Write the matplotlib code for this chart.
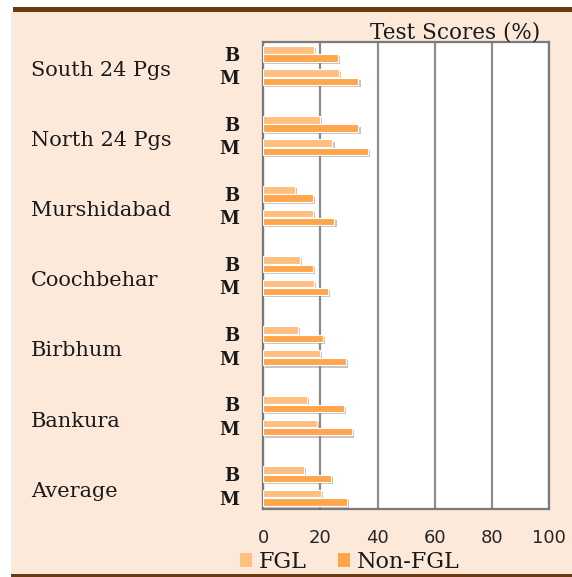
import matplotlib
matplotlib.use('Agg')
import matplotlib.pyplot as plt
import matplotlib.patheffects as pe
from matplotlib.patches import Rectangle, Patch
from matplotlib.transforms import blended_transform_factory
import numpy as np

# data (test scores, %)
districts = ['South 24 Pgs', 'North 24 Pgs', 'Murshidabad', 'Coochbehar',
             'Birbhum', 'Bankura', 'Average']
subgroups = ['B', 'M']
fgl_B = [17.8, 19.9, 11.2, 12.8, 12.0, 15.3, 14.1]
fgl_M = [26.4, 24.2, 17.5, 17.6, 19.8, 18.8, 20.1]
nonfgl_B = [26.1, 33.3, 17.4, 17.4, 21.0, 28.2, 23.7]
nonfgl_M = [33.3, 36.6, 24.9, 22.6, 29.0, 31.0, 29.4]
xticks = [0, 20, 40, 60, 80, 100]
series_names = ['FGL', 'Non-FGL']

c_fgl = '#FFBF80'
c_nfgl = '#FFA64D'
peach = '#FDE9D9'
brown = '#6B3A0E'
serif = 'DejaVu Serif'

W, H = 572, 577
fig = plt.figure(figsize=(W/100, H/100), dpi=100)
fig.patch.set_facecolor('white')

# peach panel and brown rules
fig.add_artist(Rectangle((11/W, 3/H), 1-11/W, 1-15/H, transform=fig.transFigure,
                         facecolor=peach, edgecolor='none', zorder=-10))
fig.add_artist(Rectangle((12.7/W, 1-12.3/H), 1, 5.6/H, transform=fig.transFigure,
                         facecolor=brown, edgecolor='none', zorder=-9))
fig.add_artist(Rectangle((11/W, 0), 1, 3/H, transform=fig.transFigure,
                         facecolor=brown, edgecolor='none', zorder=-9))

ax = fig.add_axes([263.3/W, 1-509.3/H, (549-263.3)/W, (509.3-42.3)/H])
ax.set_facecolor('white')

# three slots per district: B, M, blank (last blank dropped)
pos_B = np.arange(len(districts))*3
pos_M = pos_B + 1
off = 0.178
h = 0.32
shadow = [pe.SimplePatchShadow(offset=(1.5, -1.5), shadow_rgbFace='#808080', alpha=0.45), pe.Normal()]

for pos, f, n in [(pos_B, fgl_B, nonfgl_B), (pos_M, fgl_M, nonfgl_M)]:
	b1 = ax.barh(pos-off, f, height=h, color=c_fgl, edgecolor='white', linewidth=0.8, zorder=3)
	b2 = ax.barh(pos+off, n, height=h, color=c_nfgl, edgecolor='white', linewidth=0.8, zorder=3)
	for r in list(b1)+list(b2):
		r.set_path_effects(shadow)

ax.set_xlim(0, 100)
ax.set_ylim(pos_M[-1]+0.5, -0.5)
ax.set_xticks(xticks)
ax.set_xticklabels([str(x) for x in xticks], fontsize=13, family='DejaVu Sans', color='#262626')
ax.tick_params(axis='x', length=0, pad=14)
ax.xaxis.grid(True, color='#8C8C8C', linewidth=1.6, zorder=1)
ax.set_axisbelow(True)
for s in ax.spines.values():
	s.set_color('#7A7A7A')
	s.set_linewidth(1.6)

yt = np.sort(np.concatenate([pos_B, pos_M]))
ax.set_yticks(yt)
ax.set_yticklabels([subgroups[i % 2] for i in range(len(yt))], fontsize=13,
                   family=serif, fontweight='bold', color='#1a1a1a')
ax.tick_params(axis='y', length=0, pad=17)

trans = blended_transform_factory(fig.transFigure, ax.transData)
for d, p in zip(districts, pos_B):
	ax.text(31/W, p+0.72, d, transform=trans, fontsize=15, family=serif,
	        ha='left', va='center', color='#1a1a1a')

fig.text(540/W, 1-39/H, 'Test Scores (%)', fontsize=15.5, family=serif,
         ha='right', va='baseline', color='#1a1a1a')

handles = [Patch(facecolor=c_fgl, edgecolor='none'), Patch(facecolor=c_nfgl, edgecolor='none')]
fig.legend(handles, series_names, ncol=2, loc='center left', bbox_to_anchor=(240/W, 1-562/H),
           frameon=False, prop={'family': serif, 'size': 16}, handlelength=0.55,
           handleheight=0.55, handletextpad=0.3, columnspacing=1.4, borderpad=0,
           borderaxespad=0, labelcolor='#1a1a1a')

fig.savefig('out.png', dpi=100, facecolor=fig.get_facecolor())
